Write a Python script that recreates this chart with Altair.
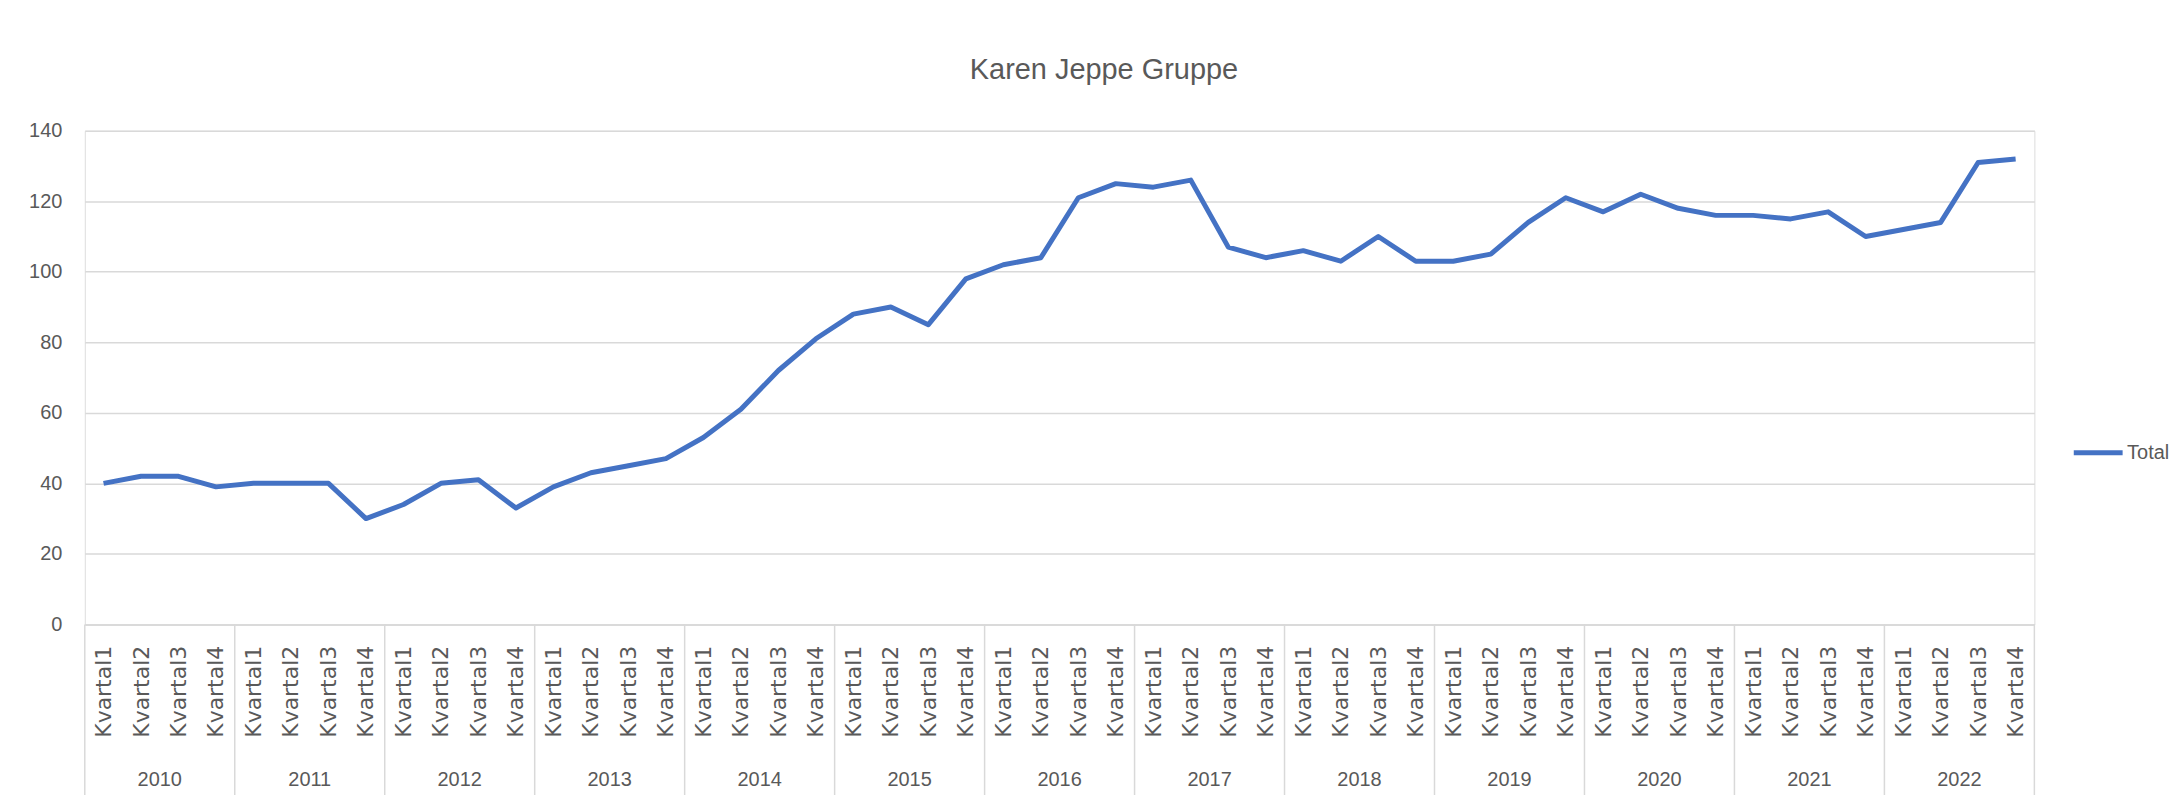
import altair as alt
import pandas as pd

# ---- data ----
years = ["2010", "2011", "2012", "2013", "2014", "2015", "2016",
         "2017", "2018", "2019", "2020", "2021", "2022"]
quarters = ["Kvartal1", "Kvartal2", "Kvartal3", "Kvartal4"]
total = [40, 42, 42, 39,   40, 40, 40, 30,   34, 40, 41, 33,
         39, 43, 45, 47,   53, 61, 72, 81,   88, 90, 85, 98,
         102, 104, 121, 125, 124, 126, 107, 104, 106, 103, 110, 103,
         103, 105, 114, 121, 117, 122, 118, 116, 116, 115, 117, 110,
         112, 114, 131, 132]
y_ticks = [0, 20, 40, 60, 80, 100, 120, 140]
title_text = "Karen Jeppe Gruppe"

# ---- tables built from the arrays ----
rows = []
i = 0
for y in years:
    for q in quarters:
        rows.append({"idx": i, "year": y, "quarter": q,
                     "value": total[i], "series": "Total"})
        i += 1
df = pd.DataFrame(rows)
year_df = pd.DataFrame({"year": years,
                        "pos": [k * 4 + 2 for k in range(len(years))]})
sep_df = pd.DataFrame({"pos": [k * 4 for k in range(len(years) + 1)]})
title_df = pd.DataFrame({"t": [title_text]})

W, H = 1955, 495
GRAY = "#595959"
GRID = "#d9d9d9"
BLUE = "#4472C4"
FONT = "Liberation Sans, Arial, sans-serif"

qscale = alt.Scale(domain=[0, len(total)], nice=False, zero=False)
yscale = alt.Scale(domain=[0, 140], nice=False)

line = alt.Chart(df).mark_line(strokeWidth=5, strokeJoin="round").encode(
    x=alt.X("idx:O", scale=alt.Scale(type="point", padding=0.5),
            sort=None,
            axis=alt.Axis(labelExpr="'Kvartal' + (datum.value % 4 + 1)",
                          labelAngle=270, labelFont="DejaVu Sans",
                          labelFontSize=22, labelColor=GRAY,
                          labelPadding=21, labelOverlap=False,
                          ticks=False, grid=False,
                          domain=True, domainColor=GRID, domainWidth=1.5,
                          title=None)),
    y=alt.Y("value:Q", scale=yscale,
            axis=alt.Axis(values=y_ticks, labelFont=FONT, labelFontSize=20,
                          labelColor=GRAY, labelPadding=23, ticks=False,
                          domain=False, grid=True, gridColor=GRID,
                          gridWidth=1.5, title=None)),
    color=alt.Color("series:N",
                    scale=alt.Scale(domain=["Total"], range=[BLUE]),
                    legend=alt.Legend(orient="none", legendX=1992,
                                      legendY=296, title=None,
                                      symbolType="stroke",
                                      symbolSize=2400,
                                      symbolStrokeWidth=5,
                                      labelFont=FONT, labelFontSize=20,
                                      labelColor=GRAY, labelOffset=2)),
)

seps = alt.Chart(sep_df).mark_rule(color=GRID, strokeWidth=1.5).encode(
    x=alt.X("pos:Q", scale=qscale, axis=None),
    y=alt.value(H),
    y2=alt.value(H + 185),
)

year_text = alt.Chart(year_df).mark_text(
    font=FONT, fontSize=20, color=GRAY, baseline="alphabetic",
    align="center").encode(
    x=alt.X("pos:Q", scale=qscale, axis=None),
    y=alt.value(H + 162),
    text="year:N",
)

title = alt.Chart(title_df).mark_text(
    font=FONT, fontSize=29, color=GRAY, baseline="alphabetic",
    align="center").encode(
    x=alt.value(1022),
    y=alt.value(-52),
    text="t:N",
)

chart = alt.layer(seps, year_text, line, title).resolve_scale(
    x="independent"
).properties(
    width=W, height=H,
    autosize=alt.AutoSizeParams(type="none"),
    padding={"left": 77, "top": 122, "right": 135, "bottom": 170},
).configure_view(stroke=None).configure(background="white")

chart.save("out.html", embed_options={"renderer": "svg", "actions": False})
